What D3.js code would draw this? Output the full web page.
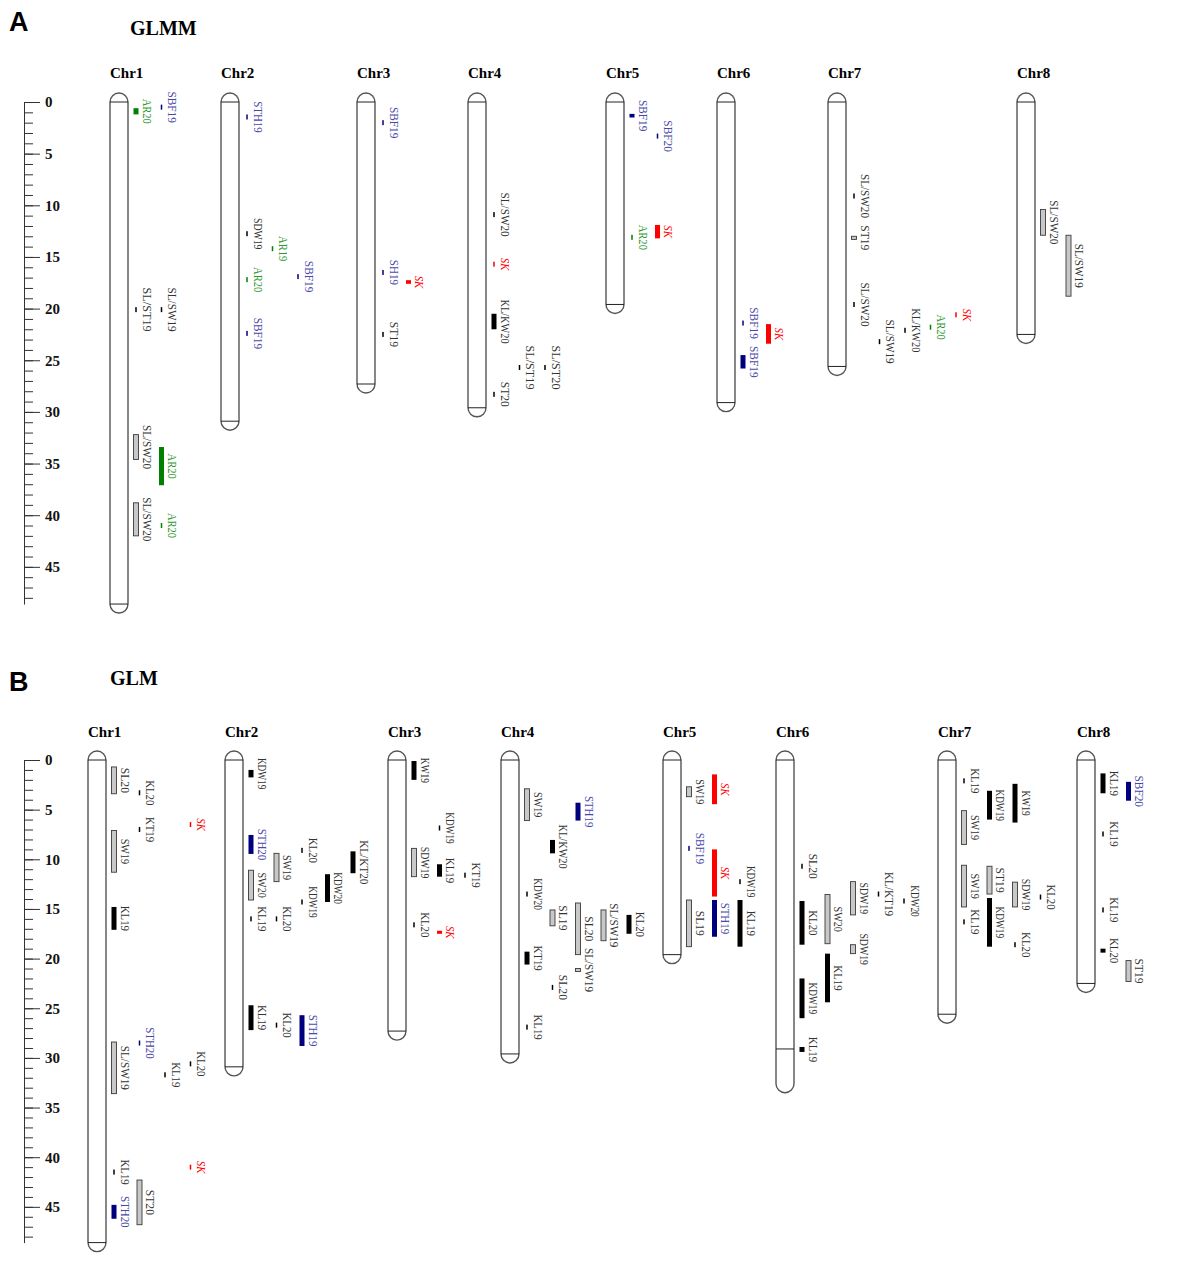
<!DOCTYPE html>
<html>
<head>
<meta charset="utf-8">
<script src="https://cdn.jsdelivr.net/npm/d3@7/dist/d3.min.js"></script>
<style>
  body { margin: 0; background: #fff; }
  svg { display: block; }
</style>
</head>
<body>
<svg id="chart" width="1181" height="1278"></svg>
<script>
// chromosome names and lengths (cM)
const chromosomes = ['Chr1', 'Chr2', 'Chr3', 'Chr4', 'Chr5', 'Chr6', 'Chr7', 'Chr8'];
const chrLength = [48.6, 30.9, 27.3, 29.6, 19.6, 29.1, 25.6, 22.5];
// in the GLM map Chr6 is drawn longer than its own end line
const glmChr6Extent = 32.6;

const majorTicks = d3.range(0, 50, 5);
const minorTicks = d3.range(0, 49);

// QTL: [chromosome, trait, start cM, end cM, column]  (start == end -> single tick)
const glmmQtl = [
  ['Chr1', 'AR20', 0.6, 1.2, 1],
  ['Chr1', 'SBF19', 0.5, 0.5, 2],
  ['Chr1', 'SL/ST19', 20.1, 20.1, 1],
  ['Chr1', 'SL/SW19', 20.1, 20.1, 2],
  ['Chr1', 'SL/SW20', 32.2, 34.6, 1],
  ['Chr1', 'AR20', 33.4, 37.1, 2],
  ['Chr1', 'SL/SW20', 38.8, 42.0, 1],
  ['Chr1', 'AR20', 41.0, 41.0, 2],
  ['Chr2', 'STH19', 1.45, 1.45, 1],
  ['Chr2', 'SDW19', 12.75, 12.75, 1],
  ['Chr2', 'AR19', 14.2, 14.2, 2],
  ['Chr2', 'AR20', 17.2, 17.2, 1],
  ['Chr2', 'SBF19', 16.9, 16.9, 3],
  ['Chr2', 'SBF19', 22.4, 22.4, 1],
  ['Chr3', 'SBF19', 2.0, 2.0, 1],
  ['Chr3', 'SH19', 16.5, 16.5, 1],
  ['Chr3', 'SK', 17.25, 17.6, 2],
  ['Chr3', 'ST19', 22.5, 22.5, 1],
  ['Chr4', 'SL/SW20', 10.9, 10.9, 1],
  ['Chr4', 'SK', 15.7, 15.7, 1],
  ['Chr4', 'KL/KW20', 20.5, 22.0, 1],
  ['Chr4', 'SL/ST19', 25.7, 25.7, 2],
  ['Chr4', 'SL/ST20', 25.7, 25.7, 3],
  ['Chr4', 'ST20', 28.3, 28.3, 1],
  ['Chr5', 'SBF19', 1.15, 1.5, 1],
  ['Chr5', 'SBF20', 3.3, 3.3, 2],
  ['Chr5', 'SK', 11.9, 13.2, 2],
  ['Chr5', 'AR20', 13.1, 13.1, 1],
  ['Chr6', 'SBF19', 21.4, 21.4, 1],
  ['Chr6', 'SK', 21.5, 23.4, 2],
  ['Chr6', 'SBF19', 24.5, 25.8, 1],
  ['Chr7', 'SL/SW20', 9.1, 9.1, 1],
  ['Chr7', 'ST19', 13.0, 13.3, 1],
  ['Chr7', 'SL/SW20', 19.6, 19.6, 1],
  ['Chr7', 'SL/SW19', 23.2, 23.2, 2],
  ['Chr7', 'KL/KW20', 22.1, 22.1, 3],
  ['Chr7', 'AR20', 21.8, 21.8, 4],
  ['Chr7', 'SK', 20.6, 20.6, 5],
  ['Chr8', 'SL/SW20', 10.4, 12.9, 1],
  ['Chr8', 'SL/SW19', 12.9, 18.8, 2]
];

const glmQtl = [
  ['Chr1', 'SL20', 0.7, 3.4, 1],
  ['Chr1', 'KL20', 3.3, 3.3, 2],
  ['Chr1', 'SK', 6.5, 6.5, 4],
  ['Chr1', 'KT19', 7.0, 7.0, 2],
  ['Chr1', 'SW19', 7.1, 11.3, 1],
  ['Chr1', 'KL19', 14.8, 17.1, 1],
  ['Chr1', 'STH20', 28.5, 28.5, 2],
  ['Chr1', 'SL/SW19', 28.4, 33.6, 1],
  ['Chr1', 'KL20', 30.6, 30.6, 4],
  ['Chr1', 'KL19', 31.7, 31.7, 3],
  ['Chr1', 'SK', 41.0, 41.0, 4],
  ['Chr1', 'KL19', 41.5, 41.5, 1],
  ['Chr1', 'ST20', 42.3, 46.8, 2],
  ['Chr1', 'STH20', 44.8, 46.2, 1],
  ['Chr2', 'KDW19', 1.0, 1.75, 1],
  ['Chr2', 'STH20', 7.55, 9.46, 1],
  ['Chr2', 'KL20', 9.1, 9.1, 3],
  ['Chr2', 'KL/KT20', 9.2, 11.4, 5],
  ['Chr2', 'SW19', 9.4, 12.25, 2],
  ['Chr2', 'SW20', 11.1, 14.1, 1],
  ['Chr2', 'KDW20', 11.5, 14.3, 4],
  ['Chr2', 'KDW19', 14.3, 14.3, 3],
  ['Chr2', 'KL19', 16.0, 16.0, 1],
  ['Chr2', 'KL20', 16.0, 16.0, 2],
  ['Chr2', 'KL19', 24.7, 27.2, 1],
  ['Chr2', 'KL20', 26.7, 26.7, 2],
  ['Chr2', 'STH19', 25.7, 28.8, 3],
  ['Chr3', 'KW19', 0.1, 2.0, 1],
  ['Chr3', 'KDW19', 6.85, 6.85, 2],
  ['Chr3', 'SDW19', 8.9, 11.75, 1],
  ['Chr3', 'KL19', 10.5, 11.75, 2],
  ['Chr3', 'KT19', 11.6, 11.6, 3],
  ['Chr3', 'KL20', 16.6, 16.6, 1],
  ['Chr3', 'SK', 17.2, 17.5, 2],
  ['Chr4', 'SW19', 2.9, 6.1, 1],
  ['Chr4', 'STH19', 4.3, 6.1, 3],
  ['Chr4', 'KL/KW20', 8.05, 9.4, 2],
  ['Chr4', 'KDW20', 13.5, 13.5, 1],
  ['Chr4', 'SL20', 14.4, 19.6, 3],
  ['Chr4', 'SL19', 15.1, 16.7, 2],
  ['Chr4', 'SL/SW19', 15.1, 18.2, 4],
  ['Chr4', 'KL20', 15.6, 17.5, 5],
  ['Chr4', 'KT19', 19.3, 20.6, 1],
  ['Chr4', 'SL/SW19', 21.0, 21.3, 3],
  ['Chr4', 'SL20', 22.9, 22.9, 2],
  ['Chr4', 'KL19', 26.9, 26.9, 1],
  ['Chr5', 'SK', 1.45, 4.45, 2],
  ['Chr5', 'SW19', 2.7, 3.7, 1],
  ['Chr5', 'SBF19', 8.9, 8.9, 1],
  ['Chr5', 'SK', 9.0, 13.75, 2],
  ['Chr5', 'KDW19', 12.25, 12.25, 3],
  ['Chr5', 'SL19', 14.1, 18.8, 1],
  ['Chr5', 'STH19', 14.1, 17.8, 2],
  ['Chr5', 'KL19', 14.1, 18.8, 3],
  ['Chr6', 'SL20', 10.7, 10.7, 1],
  ['Chr6', 'SDW19', 12.25, 15.6, 3],
  ['Chr6', 'KL/KT19', 13.5, 13.5, 4],
  ['Chr6', 'SW20', 13.55, 18.5, 2],
  ['Chr6', 'KDW20', 14.2, 14.2, 5],
  ['Chr6', 'KL20', 14.2, 18.6, 1],
  ['Chr6', 'SDW19', 18.6, 19.5, 3],
  ['Chr6', 'KL19', 19.5, 24.4, 2],
  ['Chr6', 'KDW19', 22.0, 26.0, 1],
  ['Chr6', 'KL19', 28.9, 29.4, 1],
  ['Chr7', 'KL19', 2.1, 2.1, 1],
  ['Chr7', 'KW19', 2.4, 6.3, 3],
  ['Chr7', 'KDW19', 3.1, 6.0, 2],
  ['Chr7', 'SW19', 5.1, 8.5, 1],
  ['Chr7', 'SW19', 10.6, 14.8, 1],
  ['Chr7', 'ST19', 10.7, 13.5, 2],
  ['Chr7', 'SDW19', 12.3, 14.8, 3],
  ['Chr7', 'KL20', 13.8, 13.8, 4],
  ['Chr7', 'KDW19', 13.9, 18.8, 2],
  ['Chr7', 'KL19', 16.3, 16.3, 1],
  ['Chr7', 'KL20', 18.6, 18.6, 3],
  ['Chr8', 'KL19', 1.35, 3.35, 1],
  ['Chr8', 'SBF20', 2.2, 4.1, 2],
  ['Chr8', 'KL19', 7.45, 7.45, 1],
  ['Chr8', 'KL19', 15.1, 15.1, 1],
  ['Chr8', 'KL20', 19.0, 19.4, 1],
  ['Chr8', 'ST19', 20.2, 22.3, 2]
];

// ---- layout -------------------------------------------------------------
const svg = d3.select('#chart');
const chrW = 18;
const colGap = 25.5;
const labelFont = '"Liberation Serif", "Times New Roman", serif';

const panels = [
  {
    letter: 'A', title: 'GLMM', letterY: 31, titleX: 130, titleY: 35,
    chrTitleY: 78, y0: 102, unit: 10.33, qtl: glmmQtl, extent: {},
    xs: [110, 221, 357, 468, 606, 717, 828, 1017]
  },
  {
    letter: 'B', title: 'GLM', letterY: 691, titleX: 110, titleY: 685,
    chrTitleY: 737, y0: 760, unit: 9.93, qtl: glmQtl, extent: { Chr6: glmChr6Extent },
    xs: [88, 225, 388, 501, 663, 776, 938, 1077]
  }
];

function traitStyle(trait) {
  if (trait.startsWith('AR')) return { fill: '#008000', stroke: 'none', tick: '#008000', text: '#2f9a2f' };
  if (/^(SBF|STH|SH)/.test(trait)) return { fill: '#00007f', stroke: 'none', tick: '#00007f', text: '#4848a8' };
  if (trait === 'SK') return { fill: '#ff0000', stroke: 'none', tick: '#ff0000', text: '#ff0000', italic: true };
  if (trait.startsWith('K')) return { fill: '#000', stroke: 'none', tick: '#000', text: '#333' };
  return { fill: '#c8c8c8', stroke: '#3a3a3a', tick: '#000', text: '#333' };
}

panels.forEach(p => {
  const g = svg.append('g');
  const axisMax = d3.max(chrLength);
  const y = d3.scaleLinear().domain([0, axisMax]).range([p.y0, p.y0 + axisMax * p.unit]);
  const x = d3.scaleOrdinal(chromosomes, p.xs);

  // panel letter and title
  g.append('text')
    .attr('x', 9).attr('y', p.letterY)
    .attr('font-family', '"Liberation Sans", Arial, sans-serif')
    .attr('font-weight', 'bold').attr('font-size', 27)
    .text(p.letter);
  g.append('text')
    .attr('x', p.titleX).attr('y', p.titleY)
    .attr('font-family', labelFont)
    .attr('font-weight', 'bold').attr('font-size', 20)
    .text(p.title);

  // scale bar on the left
  const minor = g.append('g').attr('transform', 'translate(24,0)')
    .call(d3.axisRight(y).tickValues(minorTicks).tickSize(9).tickSizeOuter(0).tickFormat(''));
  const major = g.append('g').attr('transform', 'translate(24,0)')
    .call(d3.axisRight(y).tickValues(majorTicks).tickSize(16).tickPadding(5));
  major.select('.domain').remove();
  minor.selectAll('line, path').attr('stroke', '#333');
  major.selectAll('line').attr('stroke', '#333');
  major.selectAll('text')
    .attr('font-family', labelFont)
    .attr('font-weight', 'bold').attr('font-size', 15)
    .attr('fill', '#111');

  // chromosomes
  chromosomes.forEach((c, i) => {
    const len = chrLength[i];
    const bodyEnd = p.extent[c] || len;
    const cx = x(c);
    g.append('text')
      .attr('x', cx).attr('y', p.chrTitleY)
      .attr('font-family', labelFont)
      .attr('font-weight', 'bold').attr('font-size', 15)
      .text(c);
    g.append('rect')
      .attr('x', cx).attr('y', y(0) - chrW / 2)
      .attr('width', chrW).attr('height', y(bodyEnd) - y(0) + chrW)
      .attr('rx', chrW / 2).attr('ry', chrW / 2)
      .attr('fill', '#fff').attr('stroke', '#555').attr('stroke-width', 1.4);
    g.selectAll(null).data([0, len]).enter().append('line')
      .attr('x1', cx).attr('x2', cx + chrW)
      .attr('y1', d => y(d)).attr('y2', d => y(d))
      .attr('stroke', '#222').attr('stroke-width', 1);
  });

  // QTL marks
  const marks = g.selectAll('g.qtl').data(p.qtl).enter().append('g').attr('class', 'qtl');
  marks.each(function(d) {
    const [chr, trait, start, end, col] = d;
    const m = d3.select(this);
    const st = traitStyle(trait);
    const cx = x(chr) + chrW + 8 + colGap * (col - 1);
    const mid = y((start + end) / 2);
    if (end - start < 0.05) {
      m.append('rect')
        .attr('x', cx - 0.75).attr('y', mid - 2.5)
        .attr('width', 1.5).attr('height', 5)
        .attr('fill', st.tick);
    } else {
      const h = Math.max(y(end) - y(start), 3);
      m.append('rect')
        .attr('x', cx - 2.5).attr('y', mid - h / 2)
        .attr('width', 5).attr('height', h)
        .attr('fill', st.fill)
        .attr('stroke', st.stroke).attr('stroke-width', 0.9);
    }
    const lx = cx + 6.5;
    m.append('text')
      .attr('x', lx).attr('y', mid)
      .attr('transform', `rotate(90,${lx},${mid})`)
      .attr('text-anchor', 'middle')
      .attr('font-family', labelFont)
      .attr('font-size', 13)
      .attr('font-style', st.italic ? 'italic' : 'normal')
      .attr('fill', st.text)
      .attr('textLength', trait.length * 6.3)
      .attr('lengthAdjust', 'spacingAndGlyphs')
      .text(trait);
  });
});
</script>
</body>
</html>
